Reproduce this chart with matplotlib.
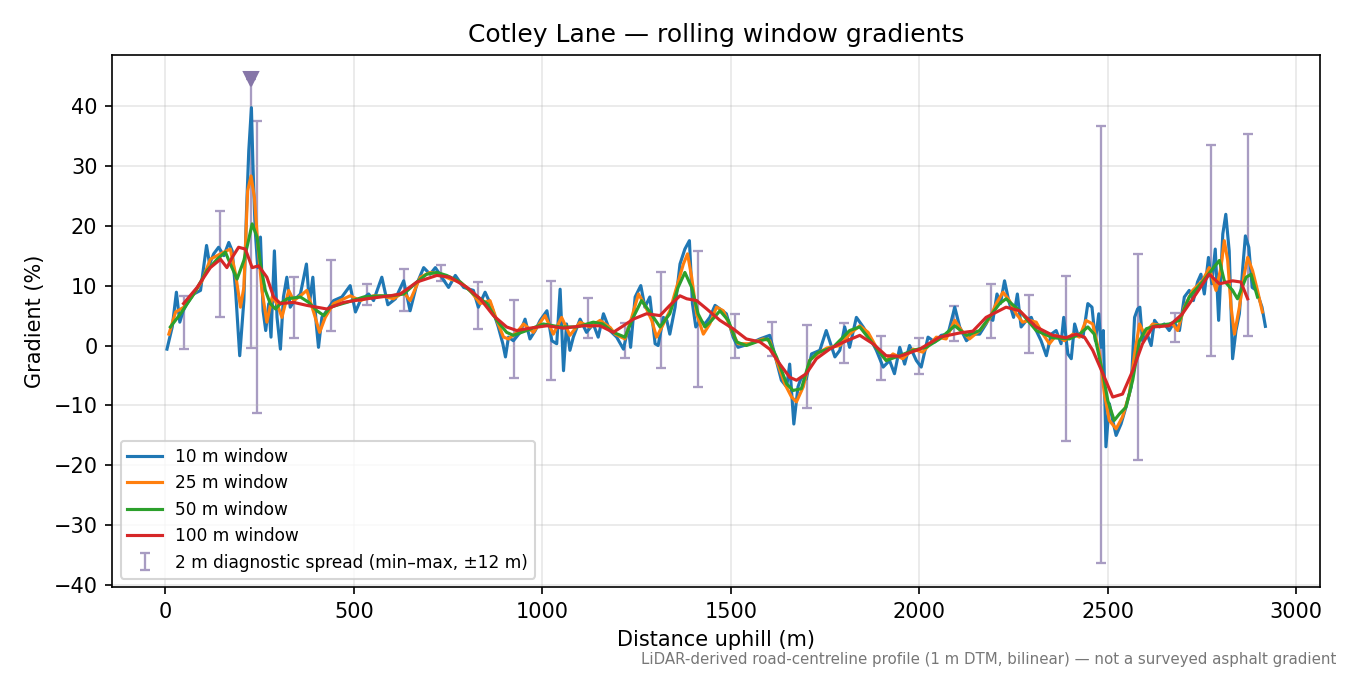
import numpy as np
import matplotlib.pyplot as plt

# 10 m window (distance m, gradient %)
d10 = [4, 18, 29, 38, 47, 57, 75, 93, 101, 109, 117, 128, 141, 155, 168, 177, 186, 197, 208, 215,
       221, 228, 232, 238, 245, 252, 259, 266, 274, 280, 289, 296, 305, 313, 322, 331, 345, 358, 374, 382,
       391, 400, 406, 415, 428, 446, 468, 490, 504, 517, 539, 552, 574, 590, 610, 632, 649, 667, 685, 702,
       716, 733, 751, 769, 791, 817, 830, 848, 866, 883, 895, 902, 910, 923, 941, 954, 967, 981, 994, 1012,
       1025, 1038, 1047, 1056, 1064, 1073, 1082, 1100, 1117, 1135, 1148, 1162, 1179, 1197, 1215, 1228, 1234, 1246, 1261, 1272,
       1285, 1299, 1307, 1321, 1330, 1338, 1352, 1365, 1378, 1390, 1398, 1407, 1418, 1431, 1444, 1458, 1471, 1488, 1506, 1519,
       1550, 1577, 1603, 1616, 1634, 1648, 1656, 1667, 1678, 1687, 1700, 1714, 1736, 1753, 1762, 1776, 1789, 1802, 1815, 1833,
       1851, 1868, 1886, 1904, 1921, 1934, 1948, 1961, 1974, 1992, 2005, 2023, 2041, 2058, 2076, 2094, 2107, 2125, 2142, 2160,
       2177, 2186, 2195, 2206, 2215, 2226, 2237, 2250, 2260, 2270, 2284, 2297, 2310, 2323, 2337, 2350, 2363, 2376, 2383, 2394,
       2403, 2412, 2420, 2434, 2447, 2458, 2467, 2476, 2482, 2488, 2495, 2504, 2513, 2522, 2535, 2548, 2562, 2571, 2579, 2585,
       2592, 2601, 2615, 2624, 2637, 2650, 2663, 2676, 2690, 2703, 2716, 2727, 2738, 2747, 2756, 2767, 2776, 2785, 2794, 2805,
       2813, 2822, 2831, 2840, 2849, 2858, 2865, 2874, 2883, 2894, 2909, 2918]
g10 = [-0.6, 3.1, 8.9, 3.9, 5.8, 7.0, 8.6, 9.2, 13.0, 16.7, 13.6, 15.3, 16.4, 15.0, 17.2, 15.8, 9.2, -1.7, 7.5, 22.5,
       32.5, 39.7, 30.3, 19.2, 13.0, 18.1, 5.8, 2.5, 7.0, 1.4, 15.8, 4.7, -0.6, 8.1, 11.4, 6.4, 7.8, 8.6, 13.6, 7.0,
       11.4, 3.6, -0.3, 4.7, 5.8, 7.5, 8.1, 10.0, 5.6, 7.5, 8.6, 7.5, 11.4, 6.8, 7.8, 10.8, 5.8, 10.3, 13.0, 11.9,
       13.0, 11.4, 9.7, 11.7, 9.7, 9.2, 6.4, 8.9, 6.4, 3.1, 0.3, -1.9, 1.4, 0.8, 2.2, 4.4, 1.1, 2.5, 4.2, 5.8,
       0.8, 0.3, 9.4, -4.2, 3.6, -0.8, 1.4, 4.4, 2.2, 3.6, 1.4, 5.3, 2.5, 1.4, -0.6, 3.1, -0.3, 8.1, 10.0, 6.4,
       8.1, 0.3, 0.0, 4.7, 4.2, 1.9, 6.4, 13.6, 16.1, 17.5, 7.0, 3.1, 4.2, 3.6, 4.7, 6.7, 6.1, 5.3, 1.4, -0.3,
       0.3, 1.1, 1.7, -1.4, -5.8, -6.9, -3.1, -13.1, -6.9, -5.3, -5.6, -1.4, -0.8, 2.5, 0.8, -1.9, -0.8, 3.1, -0.3, 4.7,
       3.1, 1.4, -0.8, -3.6, -2.5, -4.7, -0.3, -3.1, 0.0, -2.5, -3.6, 1.4, 0.6, 1.7, 1.9, 6.4, 3.1, 0.8, 1.9, 1.9,
       3.6, 4.7, 4.2, 8.6, 7.0, 10.8, 7.5, 4.7, 8.6, 3.1, 4.2, 4.7, 2.5, 0.8, -1.7, 1.9, 2.5, 0.3, 4.7, -1.4,
       -2.2, 3.6, 1.9, 1.4, 7.0, 6.4, 0.8, 5.3, -0.3, 2.5, -16.9, -9.7, -12.5, -15.0, -13.1, -10.3, -6.9, 4.7, 6.1, 6.4,
       0.8, 2.5, 0.0, 4.2, 3.1, 3.6, 2.5, 3.9, 2.5, 8.1, 9.2, 7.5, 10.6, 11.9, 8.6, 14.7, 10.3, 16.1, 4.2, 18.6,
       21.9, 15.8, -2.2, 2.5, 5.3, 13.0, 18.3, 16.4, 9.7, 9.2, 6.4, 3.2]

# 25 m window
d25 = [9, 27, 49, 75, 97, 119, 146, 172, 186, 199, 208, 218, 227, 236, 245, 256, 269, 283, 296, 309,
       327, 340, 358, 375, 393, 409, 424, 446, 490, 517, 552, 580, 605, 632, 649, 676, 702, 729, 755, 782,
       808, 835, 861, 879, 897, 910, 932, 950, 976, 1007, 1029, 1051, 1073, 1100, 1126, 1153, 1166, 1180, 1193, 1219,
       1237, 1255, 1272, 1290, 1303, 1321, 1338, 1356, 1374, 1385, 1396, 1409, 1427, 1444, 1462, 1480, 1502, 1519, 1550, 1586,
       1603, 1621, 1643, 1661, 1674, 1692, 1709, 1736, 1755, 1789, 1815, 1842, 1864, 1886, 1912, 1930, 1956, 1983, 2009, 2045,
       2071, 2094, 2112, 2133, 2160, 2186, 2204, 2222, 2239, 2257, 2274, 2292, 2310, 2328, 2345, 2363, 2385, 2407, 2425, 2442,
       2460, 2478, 2491, 2504, 2522, 2539, 2557, 2571, 2584, 2597, 2619, 2645, 2672, 2685, 2703, 2725, 2751, 2769, 2787, 2800,
       2809, 2818, 2827, 2836, 2849, 2862, 2871, 2884, 2897, 2910]
g25 = [1.9, 5.6, 6.4, 8.6, 10.8, 14.4, 15.3, 16.1, 11.9, 6.4, 9.7, 25.8, 28.3, 24.7, 16.9, 9.2, 3.9, 8.1, 7.0, 4.7,
       9.2, 7.5, 8.3, 9.2, 5.6, 2.2, 4.7, 7.0, 8.3, 7.5, 8.3, 8.2, 7.8, 8.9, 7.5, 11.4, 12.2, 11.9, 11.1, 10.6,
       9.2, 7.0, 7.5, 4.2, 1.4, 1.1, 2.2, 3.6, 2.2, 5.0, 1.9, 4.7, 1.7, 3.9, 3.1, 4.2, 3.6, 3.0, 1.9, 1.1,
       4.7, 8.6, 6.7, 4.2, 1.4, 3.6, 5.8, 9.7, 13.6, 15.3, 11.4, 5.3, 1.9, 3.6, 6.4, 5.8, 2.5, 0.3, 0.3, 1.1,
       0.8, -2.5, -6.4, -8.6, -9.4, -6.9, -2.5, -1.1, -0.4, 0.0, 1.9, 3.3, 2.2, -0.3, -2.5, -1.4, -2.2, -0.6, -1.1, 1.4,
       1.1, 4.2, 2.5, 1.1, 2.5, 4.5, 7.0, 8.9, 7.5, 5.3, 3.9, 4.2, 3.9, 1.9, 0.3, 1.7, 0.8, 1.9, 1.4, 4.2,
       3.6, -1.4, -8.1, -12.5, -13.9, -11.9, -8.1, -1.4, 3.6, 1.9, 3.6, 3.3, 3.6, 2.5, 6.4, 9.2, 10.8, 13.0, 9.2, 13.0,
       17.5, 14.2, 6.4, 1.9, 6.4, 11.9, 14.7, 12.5, 9.2, 5.6]

# 50 m window
d50 = [13, 40, 75, 110, 137, 159, 172, 190, 208, 218, 230, 243, 252, 265, 278, 292, 305, 323, 358, 380,
       402, 420, 437, 481, 526, 570, 600, 632, 667, 693, 720, 746, 782, 817, 853, 879, 905, 923, 958, 1002,
       1047, 1091, 1135, 1160, 1188, 1219, 1241, 1263, 1285, 1312, 1338, 1360, 1378, 1396, 1413, 1431, 1449, 1471, 1493, 1515,
       1541, 1577, 1598, 1621, 1648, 1665, 1687, 1709, 1730, 1771, 1815, 1842, 1877, 1912, 1948, 1983, 2018, 2054, 2094, 2125,
       2160, 2180, 2213, 2230, 2266, 2310, 2354, 2398, 2425, 2447, 2464, 2487, 2500, 2517, 2531, 2548, 2566, 2584, 2602, 2628,
       2663, 2690, 2716, 2751, 2778, 2796, 2809, 2831, 2844, 2867, 2880, 2897]
g50 = [3.1, 5.3, 8.6, 12.5, 14.4, 15.6, 13.6, 11.1, 14.2, 16.9, 20.3, 18.1, 13.6, 9.2, 7.0, 6.1, 7.0, 7.8, 8.1, 7.2,
       5.8, 5.0, 6.4, 7.2, 8.1, 8.3, 8.3, 8.6, 10.6, 11.9, 12.2, 11.7, 10.6, 8.6, 7.0, 4.2, 2.2, 1.7, 2.5, 3.6,
       3.1, 3.1, 3.9, 3.6, 2.2, 1.4, 4.7, 7.5, 5.6, 3.1, 5.3, 9.7, 12.2, 9.7, 5.3, 3.1, 4.2, 5.8, 4.2, 0.6,
       0.0, 0.8, 1.1, -1.9, -6.4, -7.5, -7.2, -2.5, -1.2, -0.3, 2.5, 3.1, 0.3, -2.5, -1.7, -0.8, -0.3, 1.1, 3.3, 1.7,
       2.5, 4.2, 7.0, 7.8, 5.8, 2.5, 1.3, 1.1, 1.9, 3.1, 1.9, -4.7, -9.2, -12.5, -11.4, -10.3, -5.8, 0.8, 2.8, 3.3,
       3.6, 4.2, 8.1, 10.6, 12.8, 14.2, 10.8, 9.2, 7.8, 11.4, 11.9, 8.1]

# 100 m window
d100 = [48, 84, 119, 146, 163, 177, 194, 212, 230, 247, 269, 287, 305, 340, 375, 428, 472, 534, 596, 623,
        667, 720, 755, 800, 835, 870, 905, 932, 967, 1012, 1056, 1109, 1153, 1188, 1215, 1241, 1276, 1312, 1338, 1365,
        1383, 1409, 1436, 1471, 1506, 1541, 1577, 1603, 1630, 1656, 1674, 1700, 1727, 1762, 1789, 1842, 1877, 1912, 1948, 2001,
        2054, 2107, 2142, 2177, 2230, 2266, 2310, 2354, 2389, 2416, 2438, 2460, 2487, 2513, 2539, 2566, 2592, 2619, 2663, 2698,
        2734, 2769, 2796, 2831, 2853, 2871]
g100 = [7.0, 9.7, 13.0, 14.4, 13.0, 14.7, 16.4, 16.1, 13.0, 13.3, 11.4, 8.1, 7.0, 7.2, 6.7, 6.1, 7.2, 7.8, 8.3, 8.6,
        10.6, 11.7, 11.4, 9.7, 7.8, 5.0, 3.1, 2.5, 2.9, 3.3, 2.9, 3.3, 3.3, 2.2, 3.3, 4.4, 5.3, 5.0, 6.7, 8.3,
        7.8, 7.5, 6.1, 4.2, 2.8, 1.1, 0.6, -0.6, -3.1, -5.3, -5.8, -4.7, -2.2, -0.6, 0.3, 1.7, 0.3, -1.7, -1.8, -0.6,
        1.4, 2.1, 2.4, 4.7, 6.4, 5.8, 3.1, 1.7, 1.3, 1.9, 1.4, -0.8, -4.7, -8.6, -8.1, -4.2, 0.3, 3.1, 3.3, 5.3,
        8.6, 11.9, 10.3, 10.8, 10.6, 7.8]

# 2 m diagnostic spread (min / max within +-12 m)
spread_d = [50, 146, 243, 340, 439, 534, 632, 730, 829, 925, 1023, 1122, 1219, 1314, 1412, 1511, 1608, 1703, 1800, 1899,
            1998, 2093, 2190, 2290, 2388, 2483, 2581, 2679, 2775, 2873]
spread_lo = [-0.6, 4.7, -11.3, 1.2, 2.4, 6.7, 5.7, 10.7, 2.7, -5.4, -5.7, 1.2, -2.1, -3.8, -7.0, -2.0, -1.8, -10.4, -2.9, -5.7,
             -4.8, 0.7, 1.3, -1.3, -16.0, -36.3, -19.1, 0.6, -1.8, 1.6]
spread_hi = [8.2, 22.5, 37.5, 11.4, 14.3, 10.2, 12.7, 13.4, 10.6, 7.6, 10.8, 7.9, 3.8, 12.2, 15.7, 5.3, 4.0, 3.4, 3.7, 1.6,
             1.3, 6.6, 10.2, 8.4, 11.6, 36.7, 15.3, 5.4, 33.4, 35.3]

# steepest point flag
peak_d = 228
peak_lo = -0.4
peak_hi = 44.5

spread_col = '#a89cc2'

fig = plt.figure(figsize=(9, 4.5), dpi=150)
ax = fig.add_axes([0.083, 0.130, 0.895, 0.789])

ax.plot(d10, g10, color='#1f77b4', lw=1.5, label='10 m window', zorder=2)
ax.plot(d25, g25, color='#ff7f0e', lw=1.5, label='25 m window', zorder=2.1)
ax.plot(d50, g50, color='#2ca02c', lw=1.5, label='50 m window', zorder=2.2)
ax.plot(d100, g100, color='#d62728', lw=1.5, label='100 m window', zorder=2.3)

lo = np.array(spread_lo)
hi = np.array(spread_hi)
mid = (lo + hi) / 2
ax.errorbar(spread_d, mid, yerr=[mid - lo, hi - mid], fmt='none', ecolor=spread_col,
            elinewidth=1.1, capsize=2.5, capthick=1.1, zorder=1.5,
            label='2 m diagnostic spread (min\u2013max, \u00b112 m)')
pm = (peak_lo + peak_hi) / 2
ax.errorbar([peak_d], [pm], yerr=[[pm - peak_lo], [peak_hi - pm]], fmt='none', ecolor=spread_col,
            elinewidth=1.1, capsize=2.5, capthick=1.1, zorder=1.5)
ax.plot([peak_d], [peak_hi], marker='v', color='#8676a8', markersize=7, linestyle='none', zorder=5)

ax.grid(True, alpha=0.3)
ax.set_xlabel('Distance uphill (m)', fontsize=10)
ax.set_ylabel('Gradient (%)', fontsize=10)
ax.set_title('Cotley Lane \u2014 rolling window gradients', fontsize=12)

ax.legend(loc='lower left', fontsize=8.2)

fig.text(0.99, 0.012, 'LiDAR-derived road-centreline profile (1 m DTM, bilinear) \u2014 not a surveyed asphalt gradient',
         ha='right', va='bottom', fontsize=7.2, color='#777777')

fig.savefig('out.png', dpi=150)
